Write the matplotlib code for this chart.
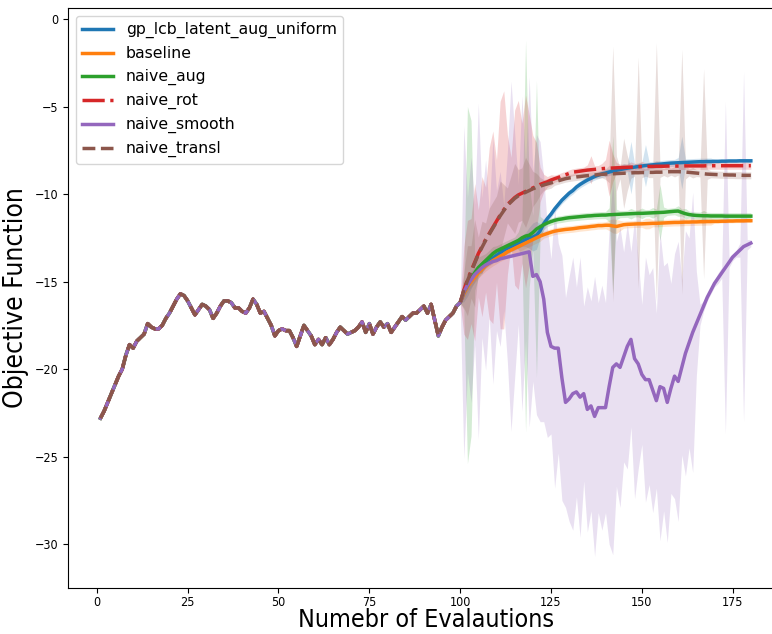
import matplotlib
matplotlib.use("Agg")
import matplotlib.pyplot as plt
import numpy as np

# shared history, evaluations 1..99 (all methods identical here)
shared = [
    -22.8, -22.4, -21.9, -21.4, -20.9, -20.4, -20.0, -19.2, -18.6, -18.8,
    -18.4, -18.2, -18.0, -17.4, -17.6, -17.7, -17.7, -17.5, -17.1, -16.8,
    -16.4, -16.0, -15.7, -15.8, -16.1, -16.5, -16.9, -16.6, -16.3, -16.4,
    -16.6, -17.1, -16.8, -16.4, -16.1, -16.1, -16.2, -16.5, -16.5, -16.7,
    -16.8, -16.5, -16.0, -16.3, -16.8, -16.7, -17.1, -17.5, -18.1, -17.8,
    -17.7, -17.8, -17.8, -18.2, -18.7, -18.1, -17.5, -17.8, -18.1, -18.6,
    -18.3, -18.6, -18.2, -18.6, -18.3, -17.9, -17.6, -17.8, -18.0, -17.9,
    -17.8, -17.6, -17.3, -17.9, -17.4, -18.0, -17.6, -17.3, -17.6, -17.4,
    -17.9, -17.6, -17.3, -17.0, -17.2, -17.0, -16.8, -16.8, -16.6, -16.4,
    -16.8, -16.3, -17.2, -18.1, -17.6, -17.2, -17.0, -16.8, -16.4,
]

# means for evaluations 100..180
gp_lcb = [
    -16.2, -15.65, -15.25, -14.9, -14.6, -14.35, -14.15, -13.95, -13.8, -13.65,
    -13.5, -13.35, -13.2, -13.1, -13.0, -12.9, -12.8, -12.7, -12.6, -12.5,
    -12.45, -12.35, -12.1, -11.7, -11.4, -11.15, -10.85, -10.6, -10.35, -10.15,
    -9.95, -9.8, -9.6, -9.45, -9.32, -9.2, -9.1, -9.0, -8.92, -8.85,
    -8.8, -8.74, -8.69, -8.64, -8.6, -8.56, -8.52, -8.49, -8.46, -8.43,
    -8.4, -8.37, -8.35, -8.33, -8.31, -8.29, -8.27, -8.25, -8.23, -8.22,
    -8.21, -8.2, -8.19, -8.18, -8.17, -8.16, -8.15, -8.15, -8.14, -8.14,
    -8.13, -8.13, -8.12, -8.12, -8.11, -8.11, -8.11, -8.1, -8.1, -8.1, -8.1,
]
baseline = [
    -16.2, -15.7, -15.3, -15.0, -14.75, -14.5, -14.3, -14.1, -13.95, -13.8,
    -13.68, -13.55, -13.45, -13.3, -13.2, -13.1, -13.0, -12.9, -12.8, -12.7,
    -12.6, -12.5, -12.4, -12.32, -12.25, -12.18, -12.12, -12.08, -12.05, -12.02,
    -12.0, -11.98, -11.95, -11.92, -11.9, -11.88, -11.85, -11.83, -11.8, -11.8,
    -11.78, -11.78, -11.82, -11.85, -11.8, -11.75, -11.73, -11.72, -11.71, -11.7,
    -11.7, -11.69, -11.68, -11.67, -11.67, -11.66, -11.65, -11.64, -11.63, -11.62,
    -11.62, -11.61, -11.6, -11.6, -11.59, -11.59, -11.58, -11.58, -11.57, -11.57,
    -11.56, -11.56, -11.55, -11.55, -11.54, -11.54, -11.53, -11.53, -11.53, -11.52, -11.52,
]
naive_aug = [
    -16.2, -15.6, -15.2, -14.8, -14.5, -14.2, -14.0, -13.8, -13.6, -13.4,
    -13.25, -13.15, -13.05, -12.95, -12.85, -12.75, -12.65, -12.5, -12.4, -12.35,
    -12.2, -12.0, -11.87, -11.75, -11.65, -11.57, -11.5, -11.45, -11.42, -11.38,
    -11.35, -11.33, -11.31, -11.29, -11.27, -11.25, -11.24, -11.22, -11.21, -11.2,
    -11.2, -11.18, -11.17, -11.16, -11.15, -11.14, -11.13, -11.12, -11.11, -11.1,
    -11.1, -11.09, -11.08, -11.07, -11.06, -11.05, -11.04, -11.02, -11.0, -10.98,
    -10.97, -11.05, -11.12, -11.17, -11.2, -11.22, -11.23, -11.24, -11.24, -11.25,
    -11.25, -11.25, -11.25, -11.26, -11.26, -11.26, -11.26, -11.26, -11.26, -11.26, -11.26,
]
naive_rot = [
    -16.2, -15.5, -14.9, -14.4, -13.9, -13.4, -13.0, -12.6, -12.25, -11.9,
    -11.55, -11.2, -10.9, -10.6, -10.4, -10.2, -10.05, -9.95, -9.85, -9.75,
    -9.65, -9.55, -9.45, -9.37, -9.3, -9.2, -9.12, -9.05, -8.97, -8.9,
    -8.82, -8.75, -8.72, -8.69, -8.66, -8.63, -8.61, -8.59, -8.57, -8.55,
    -8.53, -8.52, -8.51, -8.5, -8.49, -8.48, -8.47, -8.46, -8.45, -8.44,
    -8.43, -8.43, -8.42, -8.42, -8.41, -8.41, -8.41, -8.4, -8.4, -8.4,
    -8.4, -8.4, -8.39, -8.39, -8.39, -8.39, -8.39, -8.39, -8.38, -8.38,
    -8.38, -8.38, -8.38, -8.38, -8.38, -8.38, -8.38, -8.38, -8.38, -8.38, -8.38,
]
naive_smooth = [
    -16.2, -15.6, -15.2, -14.9, -14.6, -14.4, -14.2, -14.05, -13.95, -13.85,
    -13.8, -13.7, -13.65, -13.6, -13.55, -13.5, -13.45, -13.4, -13.35, -13.3,
    -14.7, -14.6, -15.0, -16.0, -17.9, -18.7, -18.8, -18.8, -20.5, -21.9,
    -21.7, -21.4, -21.3, -21.6, -21.4, -22.3, -22.1, -22.7, -22.2, -22.2,
    -22.2, -21.0, -19.9, -19.7, -19.9, -19.3, -18.7, -18.3, -19.4, -19.7,
    -20.3, -20.6, -20.6, -21.2, -21.8, -21.0, -21.1, -21.9, -21.1, -20.4,
    -20.7, -19.9, -19.1, -18.5, -17.9, -17.4, -16.9, -16.4, -15.9, -15.5,
    -15.1, -14.8, -14.5, -14.2, -13.9, -13.6, -13.4, -13.2, -13.0, -12.9, -12.8,
]
naive_transl = [
    -16.2, -15.5, -14.95, -14.45, -13.95, -13.45, -13.05, -12.65, -12.3, -11.95,
    -11.6, -11.25, -10.95, -10.65, -10.45, -10.25, -10.1, -10.0, -9.9, -9.8,
    -9.7, -9.62, -9.55, -9.48, -9.42, -9.36, -9.3, -9.24, -9.18, -9.12,
    -9.08, -9.05, -9.02, -9.0, -8.97, -8.95, -8.93, -8.91, -8.89, -8.87,
    -8.86, -8.85, -8.84, -8.83, -8.82, -8.81, -8.8, -8.79, -8.78, -8.78,
    -8.77, -8.77, -8.76, -8.76, -8.75, -8.75, -8.74, -8.73, -8.72, -8.72,
    -8.72, -8.73, -8.74, -8.76, -8.78, -8.8, -8.82, -8.84, -8.86, -8.87,
    -8.88, -8.89, -8.9, -8.9, -8.91, -8.91, -8.92, -8.92, -8.93, -8.93, -8.93,
]

# spread (std) for evaluations 100..180
gp_lcb_std = [
    0, 0.5, 0.6, 0.5, 0.4, 0.3, 0.3, 0.3, 0.3, 0.3,
    0.3, 0.3, 0.3, 0.3, 0.3, 0.3, 0.3, 0.3, 0.4, 0.6,
    0.8, 0.8, 0.4, 0.3, 0.2, 0.2, 0.2, 0.2, 0.2, 0.2,
    0.2, 0.2, 0.2, 0.2, 0.2, 0.2, 0.2, 0.2, 0.2, 0.2,
    0.2, 0.2, 0.2, 0.2, 0.2, 0.3, 0.2, 1.5, 0.2, 0.2,
    0.2, 1.2, 0.2, 0.2, 0.2, 0.2, 0.2, 0.2, 0.2, 0.2,
    0.3, 1.5, 0.2, 0.2, 0.2, 0.2, 0.2, 0.2, 0.2, 0.2,
    0.1, 0.1, 0.1, 0.1, 0.1, 0.1, 0.1, 0.1, 0.1, 0.1, 0.1,
]
baseline_std = [
    0, 0.3, 0.3, 0.3, 0.3, 0.3, 0.3, 0.3, 0.3, 0.3,
    0.3, 0.3, 0.3, 0.3, 0.3, 0.3, 0.3, 0.3, 0.3, 0.3,
    0.3, 0.3, 0.3, 0.2, 0.2, 0.2, 0.2, 0.2, 0.2, 0.2,
    0.2, 0.2, 0.2, 0.2, 0.2, 0.2, 0.2, 0.2, 0.2, 0.2,
    0.2, 0.3, 0.4, 0.4, 0.3, 0.2, 0.2, 0.2, 0.2, 0.2,
    0.2, 0.3, 0.3, 0.2, 0.2, 0.2, 0.2, 0.2, 0.2, 0.2,
    0.2, 0.2, 0.2, 0.2, 0.2, 0.2, 0.2, 0.2, 0.2, 0.2,
    0.1, 0.1, 0.1, 0.1, 0.1, 0.1, 0.1, 0.1, 0.1, 0.1, 0.1,
]
naive_aug_std = [
    0, 1.0, 10.2, 9.0, 1.0, 0.6, 0.5, 0.4, 0.4, 0.4,
    0.3, 0.3, 0.3, 0.3, 0.3, 0.3, 0.5, 1.0, 11.2, 3.0,
    1.0, 8.5, 0.6, 0.3, 0.2, 0.2, 0.2, 0.2, 0.2, 0.2,
    0.2, 0.2, 0.2, 0.2, 0.2, 0.2, 0.2, 0.2, 0.2, 0.2,
    0.2, 0.4, 4.5, 0.3, 0.2, 0.2, 0.2, 0.3, 0.2, 0.2,
    0.3, 0.2, 0.2, 0.3, 0.2, 1.6, 0.3, 0.2, 0.2, 0.2,
    0.3, 0.2, 0.3, 0.2, 0.2, 0.2, 0.2, 0.3, 0.2, 0.2,
    0.2, 0.2, 0.2, 0.2, 0.2, 0.2, 0.2, 0.2, 0.2, 0.2, 0.2,
]
naive_rot_std = [
    0, 2.5, 3.4, 3.0, 4.5, 2.5, 4.0, 3.0, 4.9, 5.5,
    3.5, 6.5, 6.8, 4.0, 2.5, 5.0, 5.4, 4.0, 5.5, 4.3,
    3.0, 2.5, 1.0, 0.5, 0.3, 0.3, 0.2, 0.2, 0.2, 0.2,
    0.2, 0.2, 0.2, 0.2, 0.2, 0.3, 0.8, 0.2, 0.2, 0.3,
    0.5, 1.6, 0.8, 0.3, 0.2, 0.2, 0.2, 0.3, 0.2, 0.2,
    0.3, 0.2, 0.2, 0.2, 0.3, 0.2, 0.2, 0.2, 0.2, 0.2,
    0.2, 0.2, 0.2, 0.2, 0.2, 0.2, 0.2, 0.2, 0.2, 0.2,
    0.2, 0.2, 0.2, 0.2, 0.2, 0.2, 0.2, 0.2, 0.2, 0.2, 0.2,
]
naive_smooth_std = [
    0, 9.5, 5.0, 7.0, 4.0, 9.6, 4.0, 6.0, 3.0, 7.0,
    4.0, 5.0, 3.0, 6.0, 10.0, 7.0, 4.0, 9.0, 5.0, 10.0,
    6.0, 8.0, 8.0, 7.0, 6.0, 5.0, 8.0, 6.0, 7.0, 6.0,
    7.0, 7.8, 6.0, 8.0, 5.0, 7.0, 6.0, 8.0, 6.0, 7.0,
    6.0, 9.0, 10.7, 7.0, 8.0, 6.0, 7.0, 5.0, 8.0, 6.0,
    4.0, 7.0, 6.0, 7.0, 5.0, 8.8, 7.0, 8.0, 6.0, 7.0,
    8.0, 5.0, 7.0, 6.0, 8.0, 3.0, 0.6, 0.3, 0.2, 0.2,
    0.2, 0.3, 0.3, 9.5, 0.3, 0.2, 0.2, 0.4, 10.0, 0.3, 0.2,
]
naive_transl_std = [
    0, 1.0, 2.0, 1.5, 2.5, 1.0, 1.5, 1.0, 1.5, 1.5,
    1.5, 2.0, 1.5, 1.0, 1.5, 2.0, 1.5, 1.5, 2.0, 1.5,
    1.0, 0.8, 0.5, 0.3, 0.3, 0.3, 0.2, 0.2, 0.2, 0.2,
    0.2, 0.2, 0.2, 0.2, 0.2, 0.2, 0.2, 0.2, 0.2, 0.2,
    0.3, 0.5, 7.3, 1.0, 0.3, 2.0, 1.0, 0.3, 0.2, 6.6,
    0.3, 0.2, 0.3, 0.3, 7.4, 0.3, 0.2, 0.3, 0.2, 0.3,
    0.2, 7.0, 0.4, 0.2, 0.3, 0.2, 0.2, 6.0, 0.3, 0.2,
    0.2, 0.2, 0.2, 0.2, 0.2, 0.2, 0.2, 0.2, 0.2, 0.2, 0.2,
]

names = ["gp_lcb_latent_aug_uniform", "baseline", "naive_aug",
         "naive_rot", "naive_smooth", "naive_transl"]
means = [gp_lcb, baseline, naive_aug, naive_rot, naive_smooth, naive_transl]
stds = [gp_lcb_std, baseline_std, naive_aug_std, naive_rot_std,
        naive_smooth_std, naive_transl_std]
colors = ["tab:blue", "tab:orange", "tab:green", "tab:red", "tab:purple", "tab:brown"]
styles = ["-", "-", "-", "-.", "-", "--"]

fig = plt.figure(figsize=(7.72, 6.34), dpi=100)
ax = fig.add_axes([0.088, 0.0726, 0.9267, 0.9148])

x_all = np.arange(1, 181)
x_tail = np.arange(100, 181)
for name, m, s, c, ls in zip(names, means, stds, colors, styles):
    y = np.array(shared + m)
    ax.plot(x_all, y, color=c, linestyle=ls, linewidth=2.5, label=name)
    m = np.array(m)
    s = np.array(s)
    ax.fill_between(x_tail, m - s, m + s, color=c, alpha=0.2, linewidth=0)

ax.set_ylim(-32.5, 0.63)
ax.set_xlim(-7.95, 188.95)
ax.spines["right"].set_visible(False)
ax.set_xticks([0, 25, 50, 75, 100, 125, 150, 175])
ax.set_yticks([0, -5, -10, -15, -20, -25, -30])
ax.tick_params(axis="x", pad=2.5)
for lab in ax.get_xticklabels() + ax.get_yticklabels():
    lab.set_fontsize(9)
    lab.set_fontstretch("condensed")
ax.set_xlabel("Numebr of Evalautions", fontsize=18, fontstretch="condensed", labelpad=-1)
ax.set_ylabel("Objective Function", fontsize=19, fontstretch="condensed")
ax.legend(loc="upper left", fontsize=11.3)

fig.savefig("out.png", dpi=100)
